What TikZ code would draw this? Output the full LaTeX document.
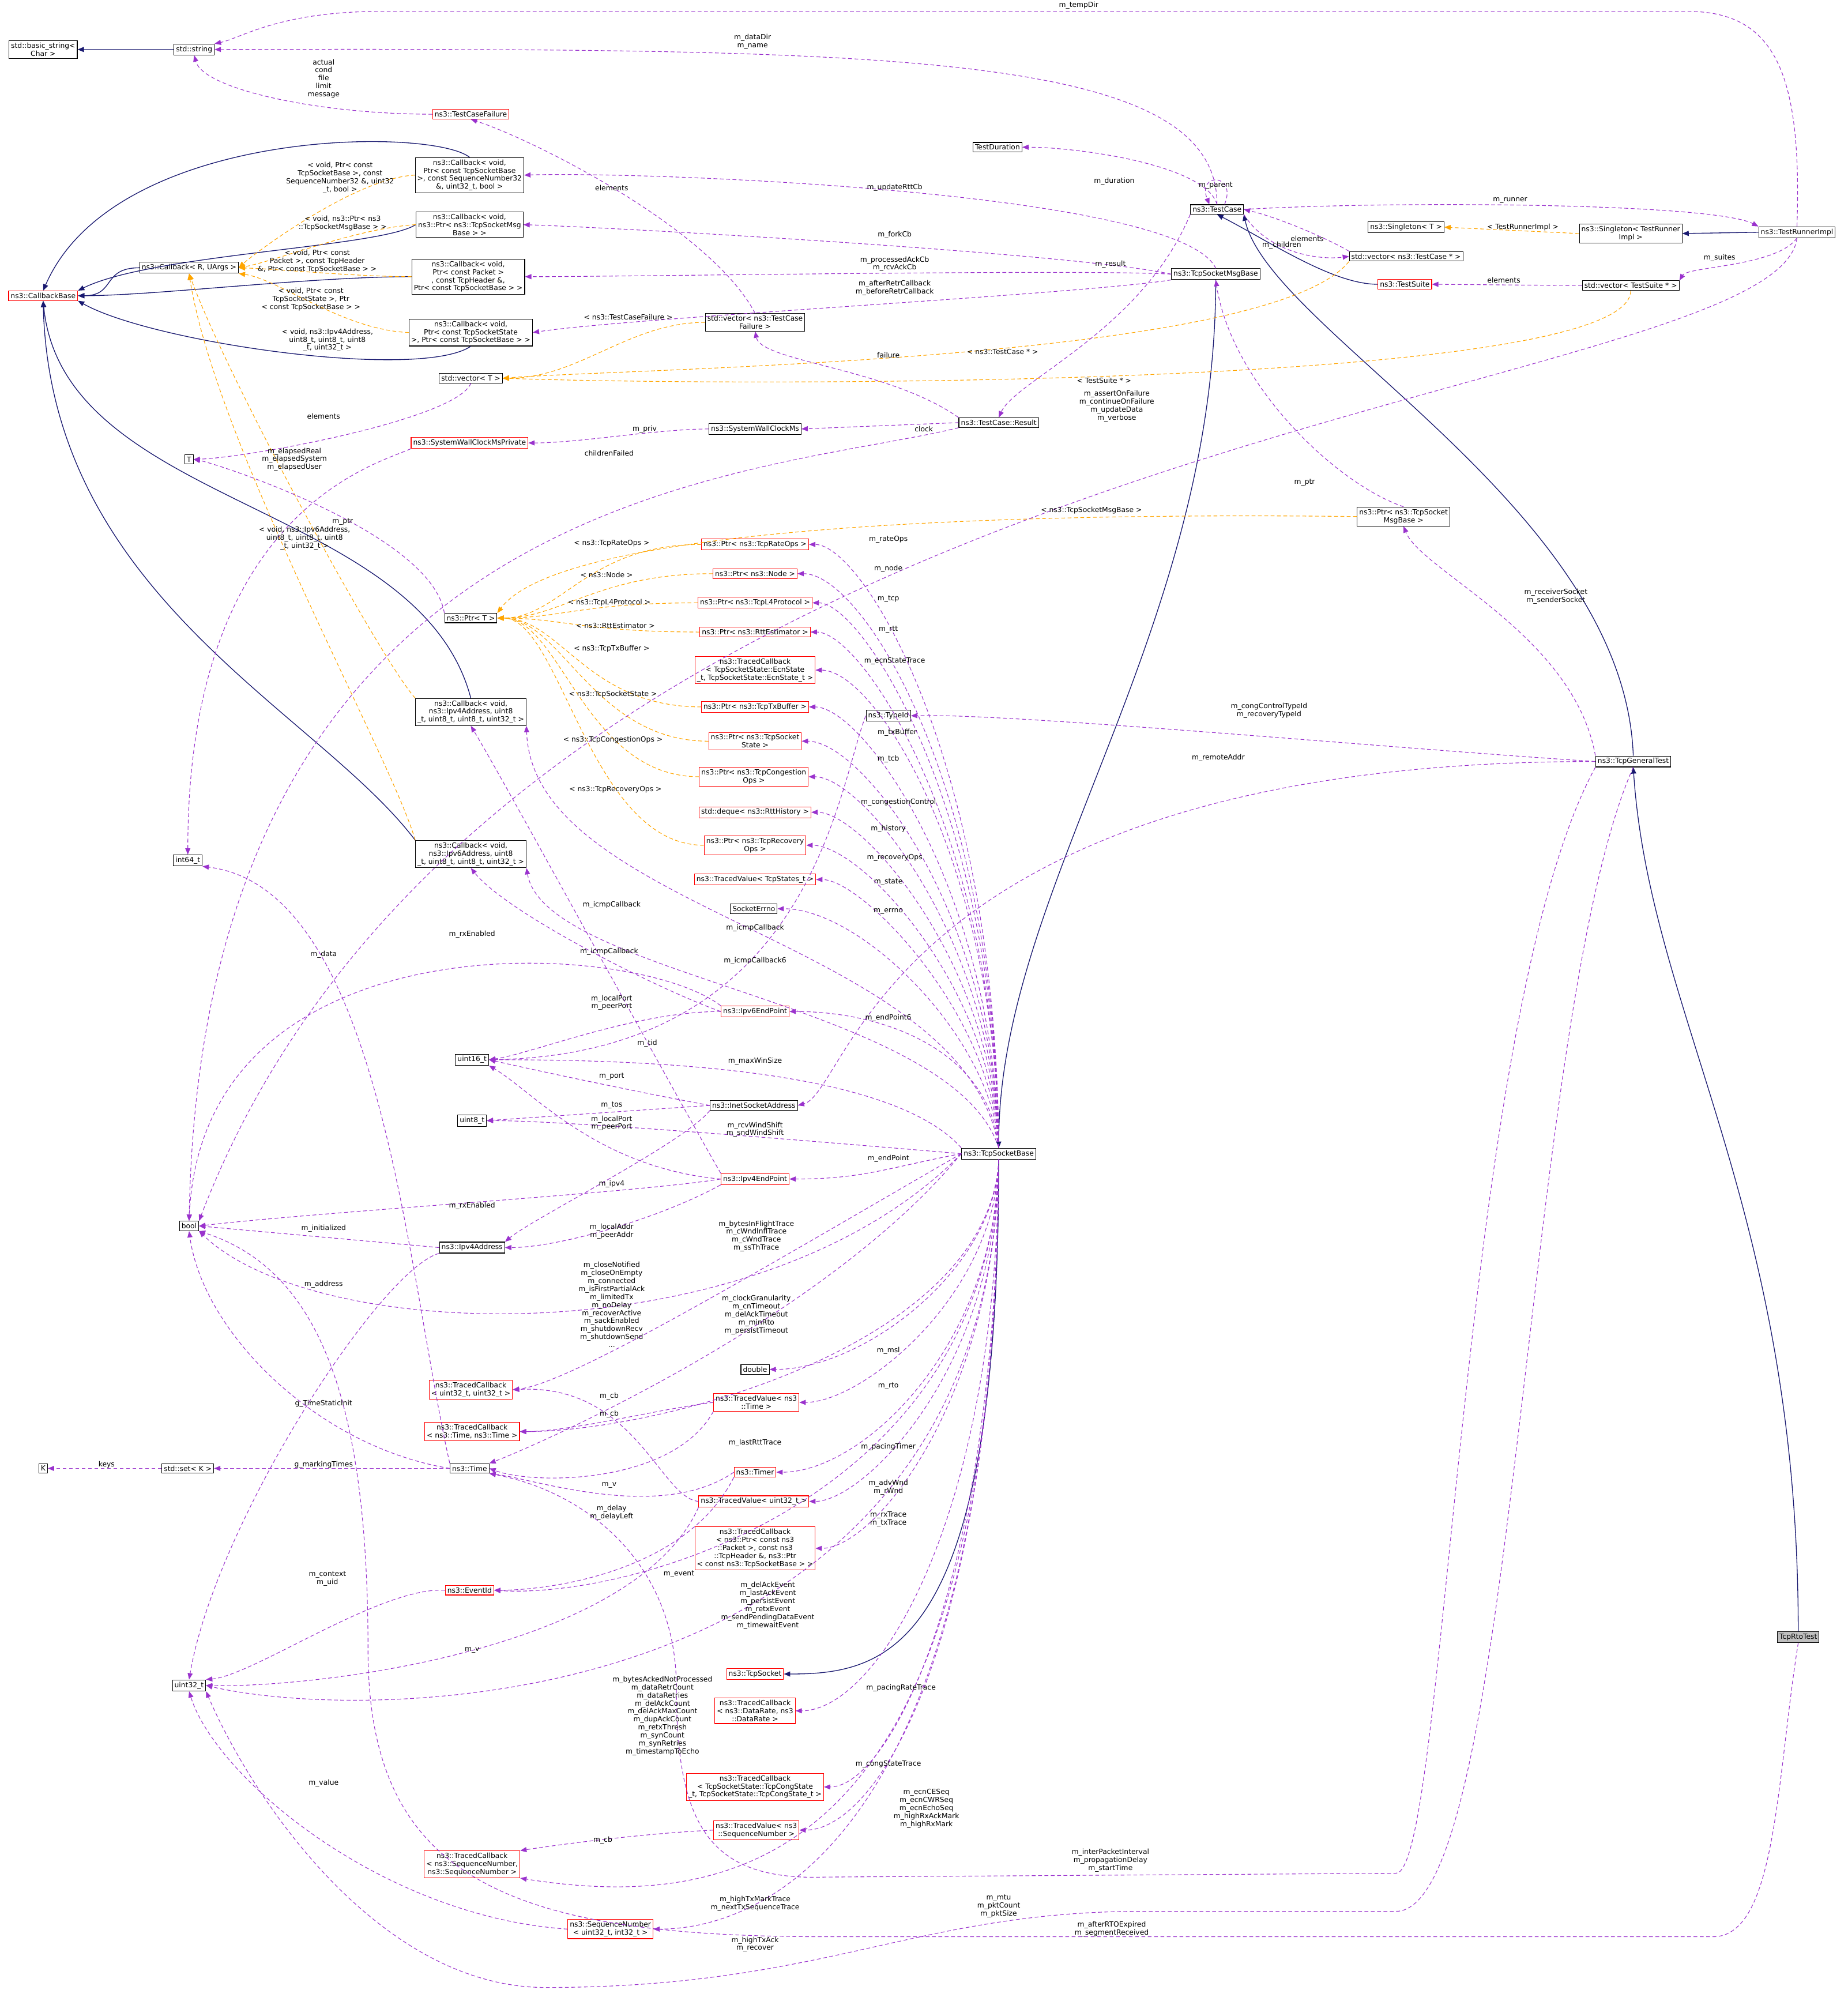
\documentclass[tikz,border=0pt]{standalone}
\usepackage{fontspec}
\setmainfont{DejaVu Sans}
\usetikzlibrary{arrows.meta}
\definecolor{usec}{HTML}{9A32CD}
\definecolor{tplc}{HTML}{FFA500}
\definecolor{inhc}{HTML}{191970}
\definecolor{grayf}{HTML}{BFBFBF}
\newcommand\fsz{\fontsize{5.6}{6.3}\selectfont}
\tikzset{
 cls/.style={draw=black, fill=white, font=\fsz, inner sep=1.6pt, align=center, line width=0.5pt},
 rcls/.style={cls, draw=red},
 use/.style={draw=usec, line width=0.5pt, dash pattern=on 3pt off 2pt, -{Triangle[length=5pt,width=4pt]}},
 tpl/.style={use, draw=tplc},
 inh/.style={draw=inhc, line width=0.6pt, -{Triangle[length=5pt,width=4pt]}},
 lbl/.style={font=\fsz, align=center, inner sep=0pt}
}
\begin{document}
\begin{tikzpicture}[x=1pt,y=-1pt]
\useasboundingbox (0,0) rectangle (1456,1568);
% left column
\node[cls] (bstr) at (34,39) {std::basic\_string\textless\\Char \textgreater};
\node[cls] (str) at (153,39) {std::string};
\node[rcls] (cbb) at (34,233) {ns3::CallbackBase};
\node[cls] (cbru) at (149,211) {ns3::Callback\textless{} R, UArgs \textgreater};
\node[cls] (T) at (149,362) {T};
\node[cls] (i64) at (148,678) {int64\_t};
\node[cls] (bool) at (149,966) {bool};
\node[cls] (K) at (34,1157) {K};
\node[cls] (setk) at (148,1157) {std::set\textless{} K \textgreater};
\node[cls] (u32) at (149,1328) {uint32\_t};
% middle-left
\node[rcls] (tcf) at (371,90) {ns3::TestCaseFailure};
\node[cls] (cb1) at (370,138) {ns3::Callback\textless{} void,\\ Ptr\textless{} const TcpSocketBase\\ \textgreater, const SequenceNumber32\\ \&, uint32\_t, bool \textgreater};
\node[cls] (cb2) at (370,177) {ns3::Callback\textless{} void,\\ ns3::Ptr\textless{} ns3::TcpSocketMsg\\Base \textgreater{} \textgreater};
\node[cls] (cb3) at (369,218) {ns3::Callback\textless{} void,\\ Ptr\textless{} const Packet \textgreater\\, const TcpHeader \&,\\ Ptr\textless{} const TcpSocketBase \textgreater{} \textgreater};
\node[cls] (cb4) at (371,262) {ns3::Callback\textless{} void,\\ Ptr\textless{} const TcpSocketState\\ \textgreater, Ptr\textless{} const TcpSocketBase \textgreater{} \textgreater};
\node[cls] (vecT) at (371,298) {std::vector\textless{} T \textgreater};
\node[rcls] (swcp) at (370,349) {ns3::SystemWallClockMsPrivate};
\node[cls] (ptrT) at (371,487) {ns3::Ptr\textless{} T \textgreater};
\node[cls] (cbv4) at (371,561) {ns3::Callback\textless{} void,\\ ns3::Ipv4Address, uint8\\\_t, uint8\_t, uint8\_t, uint32\_t \textgreater};
\node[cls] (cbv6) at (371,673) {ns3::Callback\textless{} void,\\ ns3::Ipv6Address, uint8\\\_t, uint8\_t, uint8\_t, uint32\_t \textgreater};
\node[cls] (u16) at (372,835) {uint16\_t};
\node[cls] (u8) at (372,883) {uint8\_t};
\node[cls] (ipv4) at (372,983) {ns3::Ipv4Address};
\node[rcls] (tcu32) at (371,1095) {ns3::TracedCallback\\\textless{} uint32\_t, uint32\_t \textgreater};
\node[rcls] (tctime) at (372,1128) {ns3::TracedCallback\\\textless{} ns3::Time, ns3::Time \textgreater};
\node[cls] (time) at (370,1157) {ns3::Time};
\node[rcls] (evid) at (370,1253) {ns3::EventId};
\node[rcls] (tcseq) at (372,1469) {ns3::TracedCallback\\\textless{} ns3::SequenceNumber,\\ ns3::SequenceNumber \textgreater};
% middle
\node[cls] (vtcf) at (595,254) {std::vector\textless{} ns3::TestCase\\Failure \textgreater};
\node[cls] (swc) at (595,338) {ns3::SystemWallClockMs};
\node[rcls] (prate) at (595,429) {ns3::Ptr\textless{} ns3::TcpRateOps \textgreater};
\node[rcls] (pnode) at (595,452) {ns3::Ptr\textless{} ns3::Node \textgreater};
\node[rcls] (pl4) at (595,475) {ns3::Ptr\textless{} ns3::TcpL4Protocol \textgreater};
\node[rcls] (prtt) at (595,498) {ns3::Ptr\textless{} ns3::RttEstimator \textgreater};
\node[rcls] (tcecn) at (595,528) {ns3::TracedCallback\\\textless{} TcpSocketState::EcnState\\\_t, TcpSocketState::EcnState\_t \textgreater};
\node[rcls] (ptx) at (595,557) {ns3::Ptr\textless{} ns3::TcpTxBuffer \textgreater};
\node[rcls] (pstate) at (595,584) {ns3::Ptr\textless{} ns3::TcpSocket\\State \textgreater};
\node[rcls] (pcong) at (594,612) {ns3::Ptr\textless{} ns3::TcpCongestion\\Ops \textgreater};
\node[rcls] (deque) at (595,640) {std::deque\textless{} ns3::RttHistory \textgreater};
\node[rcls] (prec) at (595,666) {ns3::Ptr\textless{} ns3::TcpRecovery\\Ops \textgreater};
\node[rcls] (tvstates) at (595,693) {ns3::TracedValue\textless{} TcpStates\_t \textgreater};
\node[cls] (serr) at (594,716) {SocketErrno};
\node[rcls] (ep6) at (595,797) {ns3::Ipv6EndPoint};
\node[cls] (inet) at (594,871) {ns3::InetSocketAddress};
\node[rcls] (ep4) at (595,929) {ns3::Ipv4EndPoint};
\node[cls] (dbl) at (595,1079) {double};
\node[rcls] (tvtime) at (596,1105) {ns3::TracedValue\textless{} ns3\\::Time \textgreater};
\node[rcls] (timer) at (595,1160) {ns3::Timer};
\node[rcls] (tvu32) at (594,1183) {ns3::TracedValue\textless{} uint32\_t \textgreater};
\node[rcls] (tcpkt) at (595,1220) {ns3::TracedCallback\\\textless{} ns3::Ptr\textless{} const ns3\\::Packet \textgreater, const ns3\\::TcpHeader \&, ns3::Ptr\\\textless{} const ns3::TcpSocketBase \textgreater{} \textgreater};
\node[rcls] (tsock) at (595,1319) {ns3::TcpSocket};
\node[rcls] (tcrate) at (595,1348) {ns3::TracedCallback\\\textless{} ns3::DataRate, ns3\\::DataRate \textgreater};
\node[rcls] (tccong) at (595,1408) {ns3::TracedCallback\\\textless{} TcpSocketState::TcpCongState\\\_t, TcpSocketState::TcpCongState\_t \textgreater};
\node[rcls] (tvseq) at (596,1442) {ns3::TracedValue\textless{} ns3\\::SequenceNumber \textgreater};
\node[rcls] (seqn) at (481,1520) {ns3::SequenceNumber\\\textless{} uint32\_t, int32\_t \textgreater};
% right
\node[cls] (res) at (787,333) {ns3::TestCase::Result};
\node[cls] (tid) at (700,564) {ns3::TypeId};
\node[cls] (tsb) at (787,909) {ns3::TcpSocketBase};
\node[cls] (tdur) at (786,116) {TestDuration};
\node[cls] (tsmb) at (958,216) {ns3::TcpSocketMsgBase};
\node[cls] (tc) at (959,165) {ns3::TestCase};
\node[cls] (ptsmb) at (1106,407) {ns3::Ptr\textless{} ns3::TcpSocket\\MsgBase \textgreater};
\node[cls] (sing) at (1108,179) {ns3::Singleton\textless{} T \textgreater};
\node[cls] (vtc) at (1108,202) {std::vector\textless{} ns3::TestCase * \textgreater};
\node[rcls] (tsuite) at (1107,224) {ns3::TestSuite};
\node[cls] (singtri) at (1285,184) {ns3::Singleton\textless{} TestRunner\\Impl \textgreater};
\node[cls] (vts) at (1285,225) {std::vector\textless{} TestSuite * \textgreater};
\node[cls] (tri) at (1416,183) {ns3::TestRunnerImpl};
\node[cls] (tgt) at (1287,600) {ns3::TcpGeneralTest};
\node[cls, fill=grayf] (rto) at (1417,1290) {TcpRtoTest};

% ---------- inheritance
\draw[inh] (str.west) -- (bstr.east);
\draw[inh] (cbru.west) .. controls +(-30,0) and +(30,0) .. (cbb.east);
\draw[inh] (cb1.north) .. controls (340,100) and (90,100) .. (cbb.north);
\draw[inh] (cb2.west) .. controls (300,195) and (120,200) .. (cbb.north east);
\draw[inh] (cb3.west) .. controls +(-80,0) and +(60,0) .. (cbb.east);
\draw[inh] (cb4.south) .. controls (330,300) and (120,270) .. (cbb.south east);
\draw[inh] (cbv4.north) .. controls (330,395) and (50,400) .. (cbb.south);
\draw[inh] (cbv6.north west) .. controls (250,560) and (40,470) .. (cbb.south);
\draw[inh] (tsuite.west) .. controls (1050,224) and (1000,190) .. (tc.south);
\draw[inh] (tri.west) -- (singtri.east);
\draw[inh] (tsmb.south) .. controls (958,500) and (787,700) .. (tsb.north);
\draw[inh] (tgt.north) .. controls (1280,400) and (1000,260) .. (tc.south east);
\draw[inh] (rto.north) .. controls (1417,950) and (1300,800) .. (tgt.south);
\draw[inh] (tsb.south) .. controls (787,1300) and (700,1319) .. (tsock.east);

% ---------- template
\draw[tpl] (cb1.west) .. controls (280,140) and (200,200) .. (cbru.east);
\draw[tpl] (cb2.west) .. controls (280,180) and (220,205) .. (cbru.east);
\draw[tpl] (cb3.west) .. controls (280,218) and (220,212) .. (cbru.east);
\draw[tpl] (cb4.west) .. controls (270,260) and (220,220) .. (cbru.south east);
\draw[tpl] (cbv4.north west) .. controls (300,520) and (180,300) .. (cbru.south);
\draw[tpl] (cbv6.north west) .. controls (310,600) and (170,350) .. (cbru.south);
\draw[tpl] (vtcf.west) .. controls +(-60,0) and +(60,0) .. (vecT.east);
\draw[tpl] (vtc.south west) .. controls (1000,285) and (500,290) .. (vecT.east);
\draw[tpl] (vts.south) .. controls (1285,305) and (600,305) .. (vecT.east);
\draw[tpl] (singtri.west) -- (sing.east);
\draw[tpl] (ptsmb.west) .. controls (900,405) and (450,405) .. (ptrT.north east);
\foreach \n in {prate,pnode,pl4,prtt,ptx,pstate,pcong,prec}
  \draw[tpl] (\n.west) .. controls +(-90,0) and +(50,0) .. (ptrT.east);

% ---------- usage
\draw[use] (tri.north) .. controls (1420,60) and (1400,9) .. (1330,9) -- (300,9) .. controls (220,9) and (190,30) .. (str.north east);
\draw[use] (tc.north) .. controls (959,40) and (700,38) .. (str.east);
\draw[use] (tcf.west) .. controls (250,90) and (160,70) .. (str.south);
\draw[use] (vecT.south) .. controls (360,330) and (200,360) .. (T.east);
\draw[use] (vtcf.north) .. controls (560,180) and (420,110) .. (tcf.south);
\draw[use] (swc.west) .. controls +(-40,0) and +(40,0) .. (swcp.east);
\draw[use] (swcp.south west) .. controls (300,365) and (148,400) .. (i64.north);
\draw[use] (res.west) -- (swc.east);
\draw[use] (res.north west) .. controls (700,290) and (600,285) .. (vtcf.south);
\draw[use] (res.south west) .. controls (600,375) and (160,380) .. (bool.north);
\draw[use] (tc.south west) .. controls (900,260) and (800,300) .. (res.north);
\draw[use] (tc.north) .. controls (950,130) and (850,116) .. (tdur.east);
\draw[use] ([xshift=6pt]tc.north) .. controls +(10,-25) and +(-10,-25) .. ([xshift=-6pt]tc.north);
\draw[use] (tc.east) .. controls (1100,158) and (1350,160) .. (tri.north west);
\draw[use] (vtc.north west) .. controls (1050,190) and (1010,172) .. (tc.east);
\draw[use] (tc.south east) .. controls (1000,200) and (1040,205) .. (vtc.west);
\draw[use] (vts.west) -- (tsuite.east);
\draw[use] (tri.south) .. controls (1400,210) and (1330,210) .. (vts.north east);
\draw[use] (tri.south) .. controls (1400,320) and (400,330) .. (bool.north east);
\draw[use] (tsmb.north) .. controls (930,150) and (500,135) .. (cb1.east);
\draw[use] (tsmb.west) .. controls (850,200) and (500,180) .. (cb2.east);
\draw[use] (tsmb.west) .. controls (850,212) and (500,218) .. (cb3.east);
\draw[use] (tsmb.south west) .. controls (850,232) and (500,250) .. (cb4.east);
\draw[use] (ptsmb.north) .. controls (1050,380) and (970,300) .. (tsmb.south);
\draw[use] (tgt.north west) .. controls (1240,500) and (1120,450) .. (ptsmb.south);
\draw[use] (tgt.west) .. controls (1100,590) and (800,562) .. (tid.east);
\draw[use] (tgt.west) .. controls (700,600) and (670,860) .. (inet.east);
\draw[use] (tgt.south west) .. controls (1150,800) and (1140,1476) .. (1100,1476) -- (650,1479) .. controls (560,1482) and (533,1440) .. (533,1330) .. controls (533,1230) and (460,1175) .. (time.south east);
\draw[use] (tgt.south) .. controls (1200,800) and (1195,1506) .. (1100,1506) -- (900,1506) .. controls (720,1506) and (650,1566) .. (430,1566) .. controls (300,1566) and (200,1420) .. (u32.south east);
\draw[use] (rto.south) .. controls (1400,1400) and (1400,1526) .. (1350,1526) -- (650,1526) .. controls (400,1526) and (290,1480) .. (290,1300) .. controls (290,1100) and (250,1000) .. (bool.south east);
\draw[use] (ptrT.north west) .. controls (340,420) and (170,365) .. (T.east);
% tsb upward
\draw[use] (tsb.north) .. controls (785,600) and (680,429) .. (prate.east);
\draw[use] (tsb.north) .. controls (785,620) and (680,452) .. (pnode.east);
\draw[use] (tsb.north) .. controls (785,640) and (680,475) .. (pl4.east);
\draw[use] (tsb.north) .. controls (785,660) and (680,498) .. (prtt.east);
\draw[use] (tsb.north) .. controls (785,680) and (690,528) .. (tcecn.east);
\draw[use] (tsb.north) .. controls (783,700) and (680,557) .. (ptx.east);
\draw[use] (tsb.north) .. controls (783,720) and (680,584) .. (pstate.east);
\draw[use] (tsb.north) .. controls (783,740) and (680,612) .. (pcong.east);
\draw[use] (tsb.north) .. controls (783,760) and (680,640) .. (deque.east);
\draw[use] (tsb.north) .. controls (783,780) and (680,666) .. (prec.east);
\draw[use] (tsb.north) .. controls (783,800) and (680,693) .. (tvstates.east);
\draw[use] (tsb.north) .. controls (783,820) and (680,716) .. (serr.east);
\draw[use] (tsb.north) .. controls (760,740) and (420,720) .. (cbv4.south east);
\draw[use] (tsb.north) .. controls (750,790) and (430,770) .. (cbv6.south east);
\draw[use] (tsb.north) .. controls (780,830) and (700,797) .. (ep6.east);
\draw[use] (tsb.north west) .. controls (700,840) and (500,835) .. (u16.east);
\draw[use] (tsb.west) .. controls (650,900) and (450,883) .. (u8.east);
\draw[use] (tsb.west) .. controls (700,920) and (680,929) .. (ep4.east);
% tsb downward / left
\draw[use] (tsb.west) .. controls (600,1000) and (450,1090) .. (tcu32.east);
\draw[use] (tsb.west) .. controls (600,1070) and (250,1060) .. (bool.south east);
\draw[use] (tsb.west) .. controls (650,1040) and (420,1140) .. (time.north east);
\draw[use] (tsb.south) .. controls (785,1000) and (680,1079) .. (dbl.east);
\draw[use] (tsb.south) .. controls (785,1020) and (680,1105) .. (tvtime.east);
\draw[use] (tsb.south) .. controls (780,1060) and (520,1128) .. (tctime.east);
\draw[use] (tsb.south) .. controls (785,1060) and (680,1160) .. (timer.east);
\draw[use] (tsb.south) .. controls (785,1080) and (680,1183) .. (tvu32.east);
\draw[use] (tsb.south) .. controls (785,1100) and (690,1220) .. (tcpkt.east);
\draw[use] (tsb.south) .. controls (780,1180) and (500,1260) .. (evid.east);
\draw[use] (tsb.south) .. controls (780,1350) and (300,1360) .. (u32.east);
\draw[use] (tsb.south) .. controls (785,1200) and (690,1348) .. (tcrate.east);
\draw[use] (tsb.south) .. controls (785,1250) and (700,1408) .. (tccong.east);
\draw[use] (tsb.south) .. controls (785,1300) and (690,1442) .. (tvseq.east);
\draw[use] (tsb.south) .. controls (785,1450) and (600,1510) .. (tcseq.south east);
\draw[use] (tsb.south) .. controls (785,1450) and (600,1520) .. (seqn.east);
% endpoints etc.
\draw[use] (ep4.north west) .. controls (525,850) and (400,620) .. (cbv4.south);
\draw[use] (ep6.west) .. controls (520,780) and (400,720) .. (cbv6.south);
\draw[use] (ep6.north west) .. controls (500,740) and (160,720) .. (bool.north);
\draw[use] (ep6.west) .. controls (500,797) and (420,830) .. (u16.east);
\draw[use] (ep4.west) .. controls (470,920) and (420,860) .. (u16.south east);
\draw[use] (ep4.west) .. controls (500,940) and (250,955) .. (bool.east);
\draw[use] (ep4.south west) .. controls (520,960) and (440,983) .. (ipv4.east);
\draw[use] (inet.west) .. controls (500,860) and (430,845) .. (u16.east);
\draw[use] (inet.west) -- (u8.east);
\draw[use] (inet.south west) .. controls (540,900) and (420,960) .. (ipv4.north east);
\draw[use] (tid.west) .. controls (660,620) and (640,830) .. (u16.east);
\draw[use] (ipv4.west) -- (bool.east);
\draw[use] (ipv4.south west) .. controls (300,1000) and (170,1200) .. (u32.north);
\draw[use] (time.west) .. controls (250,1140) and (160,1050) .. (bool.south);
\draw[use] (time.west) -- (setk.east);
\draw[use] (setk.west) -- (K.east);
\draw[use] (time.north west) .. controls (320,1000) and (300,700) .. (i64.south east);
\draw[use] (tvu32.west) .. controls (520,1180) and (500,1090) .. (tcu32.east);
\draw[use] (tvtime.west) .. controls (520,1110) and (450,1128) .. (tctime.east);
\draw[use] (tvtime.south west) .. controls (530,1170) and (420,1170) .. (time.east);
\draw[use] (timer.west) .. controls (520,1200) and (420,1165) .. (time.south east);
\draw[use] (timer.south west) .. controls (540,1240) and (430,1253) .. (evid.east);
\draw[use] (evid.west) .. controls (300,1250) and (200,1320) .. (u32.north east);
\draw[use] (tvu32.south west) .. controls (500,1300) and (250,1330) .. (u32.east);
\draw[use] (tvseq.west) .. controls (500,1445) and (430,1455) .. (tcseq.north east);
\draw[use] (seqn.west) .. controls (300,1510) and (170,1400) .. (u32.south);

% ---------- labels
\node[lbl] (l1) at (850,4) {m\_tempDir};
\node[lbl] (l2) at (593,33) {m\_dataDir\\m\_name};
\node[lbl] (l3) at (255,62) {actual\\cond\\file\\limit\\message};
\node[lbl] (l4) at (268,140) {\textless{} void, Ptr\textless{} const\\TcpSocketBase \textgreater, const\\SequenceNumber32 \&, uint32\\\_t, bool \textgreater};
\node[lbl] (l5) at (270,176) {\textless{} void, ns3::Ptr\textless{} ns3\\::TcpSocketMsgBase \textgreater{} \textgreater};
\node[lbl] (l6) at (250,206) {\textless{} void, Ptr\textless{} const\\Packet \textgreater, const TcpHeader\\\&, Ptr\textless{} const TcpSocketBase \textgreater{} \textgreater};
\node[lbl] (l7) at (245,236) {\textless{} void, Ptr\textless{} const\\TcpSocketState \textgreater, Ptr\\\textless{} const TcpSocketBase \textgreater{} \textgreater};
\node[lbl] (l8) at (258,268) {\textless{} void, ns3::Ipv4Address,\\uint8\_t, uint8\_t, uint8\\\_t, uint32\_t \textgreater};
\node[lbl] (l9) at (255,328) {elements};
\node[lbl] (l10) at (482,148) {elements};
\node[lbl] (l11) at (495,250) {\textless{} ns3::TestCaseFailure \textgreater};
\node[lbl] (l12) at (790,277) {\textless{} ns3::TestCase * \textgreater};
\node[lbl] (l13) at (870,300) {\textless{} TestSuite * \textgreater};
\node[lbl] (l14) at (508,338) {m\_priv};
\node[lbl] (l15) at (232,362) {m\_elapsedReal\\m\_elapsedSystem\\m\_elapsedUser};
\node[lbl] (l16) at (728,338) {clock};
\node[lbl] (l17) at (700,280) {failure};
\node[lbl] (l18) at (480,357) {childrenFailed};
\node[lbl] (l19) at (875,208) {m\_result};
\node[lbl] (l20) at (878,143) {m\_duration};
\node[lbl] (l21) at (958,146) {m\_parent};
\node[lbl] (l22) at (1190,158) {m\_runner};
\node[lbl] (l23) at (1030,188) {elements};
\node[lbl] (l24) at (1010,193) {m\_children};
\node[lbl] (l25) at (1185,221) {elements};
\node[lbl] (l26) at (1355,203) {m\_suites};
\node[lbl] (l27) at (1200,179) {\textless{} TestRunnerImpl \textgreater};
\node[lbl] (l28) at (880,320) {m\_assertOnFailure\\m\_continueOnFailure\\m\_updateData\\m\_verbose};
\node[lbl] (l29) at (705,148) {m\_updateRttCb};
\node[lbl] (l30) at (705,185) {m\_forkCb};
\node[lbl] (l31) at (705,208) {m\_processedAckCb\\m\_rcvAckCb};
\node[lbl] (l32) at (705,227) {m\_afterRetrCallback\\m\_beforeRetrCallback};
\node[lbl] (l33) at (1028,380) {m\_ptr};
\node[lbl] (l34) at (860,402) {\textless{} ns3::TcpSocketMsgBase \textgreater};
\node[lbl] (l35) at (1226,470) {m\_receiverSocket\\m\_senderSocket};
\node[lbl] (l36) at (1000,560) {m\_congControlTypeId\\m\_recoveryTypeId};
\node[lbl] (l37) at (960,597) {m\_remoteAddr};
\node[lbl] (l38) at (875,1466) {m\_interPacketInterval\\m\_propagationDelay\\m\_startTime};
\node[lbl] (l39) at (787,1502) {m\_mtu\\m\_pktCount\\m\_pktSize};
\node[lbl] (l40) at (876,1520) {m\_afterRTOExpired\\m\_segmentReceived};
\node[lbl] (l41) at (270,411) {m\_ptr};
\node[lbl] (l42) at (482,428) {\textless{} ns3::TcpRateOps \textgreater};
\node[lbl] (l43) at (478,453) {\textless{} ns3::Node \textgreater};
\node[lbl] (l44) at (480,475) {\textless{} ns3::TcpL4Protocol \textgreater};
\node[lbl] (l45) at (485,493) {\textless{} ns3::RttEstimator \textgreater};
\node[lbl] (l46) at (482,511) {\textless{} ns3::TcpTxBuffer \textgreater};
\node[lbl] (l47) at (483,547) {\textless{} ns3::TcpSocketState \textgreater};
\node[lbl] (l48) at (483,583) {\textless{} ns3::TcpCongestionOps \textgreater};
\node[lbl] (l49) at (485,622) {\textless{} ns3::TcpRecoveryOps \textgreater};
\node[lbl] (l50) at (240,424) {\textless{} void, ns3::Ipv6Address,\\uint8\_t, uint8\_t, uint8\\\_t, uint32\_t \textgreater};
\node[lbl] (m1) at (700,425) {m\_rateOps};
\node[lbl] (m2) at (700,448) {m\_node};
\node[lbl] (m3) at (700,472) {m\_tcp};
\node[lbl] (m4) at (700,496) {m\_rtt};
\node[lbl] (m5) at (705,521) {m\_ecnStateTrace};
\node[lbl] (m6) at (707,577) {m\_txBuffer};
\node[lbl] (m7) at (700,598) {m\_tcb};
\node[lbl] (m8) at (708,632) {m\_congestionControl};
\node[lbl] (m9) at (700,653) {m\_history};
\node[lbl] (m10) at (705,676) {m\_recoveryOps};
\node[lbl] (m11) at (700,695) {m\_state};
\node[lbl] (m12) at (700,718) {m\_errno};
\node[lbl] (m13) at (595,731) {m\_icmpCallback};
\node[lbl] (m14) at (595,757) {m\_icmpCallback6};
\node[lbl] (m15) at (700,802) {m\_endPoint6};
\node[lbl] (m16) at (595,836) {m\_maxWinSize};
\node[lbl] (m17) at (595,890) {m\_rcvWindShift\\m\_sndWindShift};
\node[lbl] (m18) at (700,913) {m\_endPoint};
\node[lbl] (m19) at (596,974) {m\_bytesInFlightTrace\\m\_cWndInflTrace\\m\_cWndTrace\\m\_ssThTrace};
\node[lbl] (m20) at (482,1028) {m\_closeNotified\\m\_closeOnEmpty\\m\_connected\\m\_isFirstPartialAck\\m\_limitedTx\\m\_noDelay\\m\_recoverActive\\m\_sackEnabled\\m\_shutdownRecv\\m\_shutdownSend\\...};
\node[lbl] (m21) at (596,1036) {m\_clockGranularity\\m\_cnTimeout\\m\_delAckTimeout\\m\_minRto\\m\_persistTimeout};
\node[lbl] (m22) at (700,1064) {m\_msl};
\node[lbl] (m23) at (700,1092) {m\_rto};
\node[lbl] (m24) at (595,1137) {m\_lastRttTrace};
\node[lbl] (m25) at (700,1140) {m\_pacingTimer};
\node[lbl] (m26) at (700,1172) {m\_advWnd\\m\_rWnd};
\node[lbl] (m27) at (700,1197) {m\_rxTrace\\m\_txTrace};
\node[lbl] (m28) at (605,1265) {m\_delAckEvent\\m\_lastAckEvent\\m\_persistEvent\\m\_retxEvent\\m\_sendPendingDataEvent\\m\_timewaitEvent};
\node[lbl] (m29) at (522,1352) {m\_bytesAckedNotProcessed\\m\_dataRetrCount\\m\_dataRetries\\m\_delAckCount\\m\_delAckMaxCount\\m\_dupAckCount\\m\_retxThresh\\m\_synCount\\m\_synRetries\\m\_timestampToEcho};
\node[lbl] (m30) at (710,1330) {m\_pacingRateTrace};
\node[lbl] (m31) at (700,1390) {m\_congStateTrace};
\node[lbl] (m32) at (730,1425) {m\_ecnCESeq\\m\_ecnCWRSeq\\m\_ecnEchoSeq\\m\_highRxAckMark\\m\_highRxMark};
\node[lbl] (m33) at (595,1500) {m\_highTxMarkTrace\\m\_nextTxSequenceTrace};
\node[lbl] (m34) at (595,1532) {m\_highTxAck\\m\_recover};
\node[lbl] (n1) at (510,822) {m\_tid};
\node[lbl] (n2) at (482,713) {m\_icmpCallback};
\node[lbl] (n3) at (480,750) {m\_icmpCallback};
\node[lbl] (n4) at (372,736) {m\_rxEnabled};
\node[lbl] (n5) at (482,790) {m\_localPort\\m\_peerPort};
\node[lbl] (n6) at (482,885) {m\_localPort\\m\_peerPort};
\node[lbl] (n7) at (372,950) {m\_rxEnabled};
\node[lbl] (n8) at (482,970) {m\_localAddr\\m\_peerAddr};
\node[lbl] (n9) at (482,848) {m\_port};
\node[lbl] (n10) at (482,871) {m\_tos};
\node[lbl] (n11) at (482,933) {m\_ipv4};
\node[lbl] (n12) at (255,968) {m\_initialized};
\node[lbl] (n13) at (255,1012) {m\_address};
\node[lbl] (n14) at (255,1106) {g\_TimeStaticInit};
\node[lbl] (n15) at (255,1154) {g\_markingTimes};
\node[lbl] (n16) at (84,1154) {keys};
\node[lbl] (n17) at (255,752) {m\_data};
\node[lbl] (n18) at (480,1100) {m\_cb};
\node[lbl] (n19) at (480,1114) {m\_cb};
\node[lbl] (n20) at (480,1170) {m\_v};
\node[lbl] (n21) at (482,1192) {m\_delay\\m\_delayLeft};
\node[lbl] (n22) at (535,1240) {m\_event};
\node[lbl] (n23) at (258,1244) {m\_context\\m\_uid};
\node[lbl] (n24) at (372,1300) {m\_v};
\node[lbl] (n25) at (475,1450) {m\_cb};
\node[lbl] (n26) at (255,1405) {m\_value};
\end{tikzpicture}
\end{document}
